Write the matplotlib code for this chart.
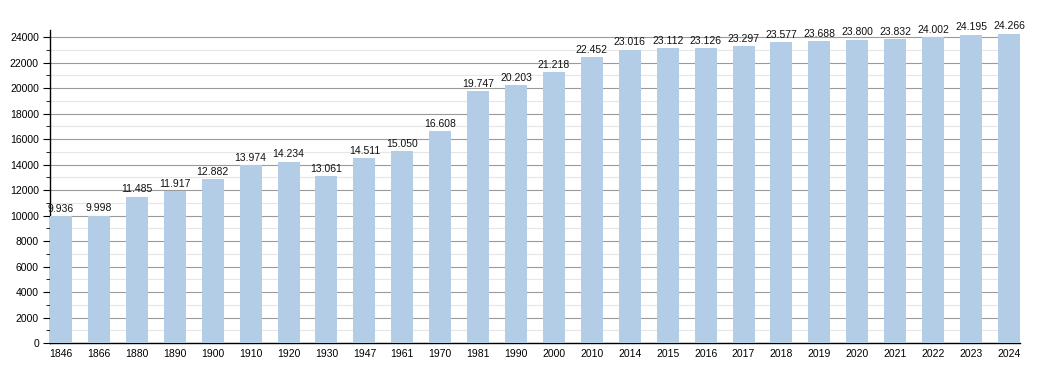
import matplotlib
matplotlib.use("Agg")
import matplotlib.pyplot as plt
from matplotlib.ticker import MultipleLocator

years = ["1846", "1866", "1880", "1890", "1900", "1910", "1920", "1930", "1947", "1961",
         "1970", "1981", "1990", "2000", "2010", "2014", "2015", "2016", "2017", "2018",
         "2019", "2020", "2021", "2022", "2023", "2024"]
population = [9936, 9998, 11485, 11917, 12882, 13974, 14234, 13061, 14511, 15050,
              16608, 19747, 20203, 21218, 22452, 23016, 23112, 23126, 23297, 23577,
              23688, 23800, 23832, 24002, 24195, 24266]

plt.rcParams['font.family'] = ['Liberation Sans', 'DejaVu Sans']

W, H = 1050, 373
fig = plt.figure(figsize=(W / 100, H / 100), dpi=100)
ax = fig.add_axes([50 / W, (H - 343) / H, (1020 - 50) / W, (343 - 30) / H])

bw = 0.58
x = list(range(len(years)))
ax.bar(x, population, width=bw, color="#b3cde6", zorder=3)
for xi, v in zip(x, population):
    lbl = f"{v:,}".replace(",", ".")
    ax.text(xi, v + 170, lbl, ha="center", va="bottom", fontsize=7.5, color="#111111", zorder=4)

ax.set_xlim(-bw / 2, len(years) - 1 + bw / 2)
ax.set_ylim(0, 24550)
ax.set_xticks(x)
ax.set_xticklabels(years, fontsize=7.5)
ax.tick_params(axis="x", length=0, pad=4)
ax.yaxis.set_major_locator(MultipleLocator(2000))
ax.yaxis.set_minor_locator(MultipleLocator(1000))
ax.tick_params(axis="y", which="major", length=5, labelsize=7.5, pad=3)
ax.tick_params(axis="y", which="minor", length=3)
ax.grid(axis="y", which="major", color="#9a9a9a", linewidth=0.8, zorder=1)
ax.grid(axis="y", which="minor", color="#e6e6e6", linewidth=0.8, zorder=1)
ax.set_axisbelow(True)
for s in ["top", "right"]:
    ax.spines[s].set_visible(False)
ax.spines["left"].set_linewidth(1)
ax.spines["bottom"].set_linewidth(1)

fig.savefig("out.png", dpi=100)
